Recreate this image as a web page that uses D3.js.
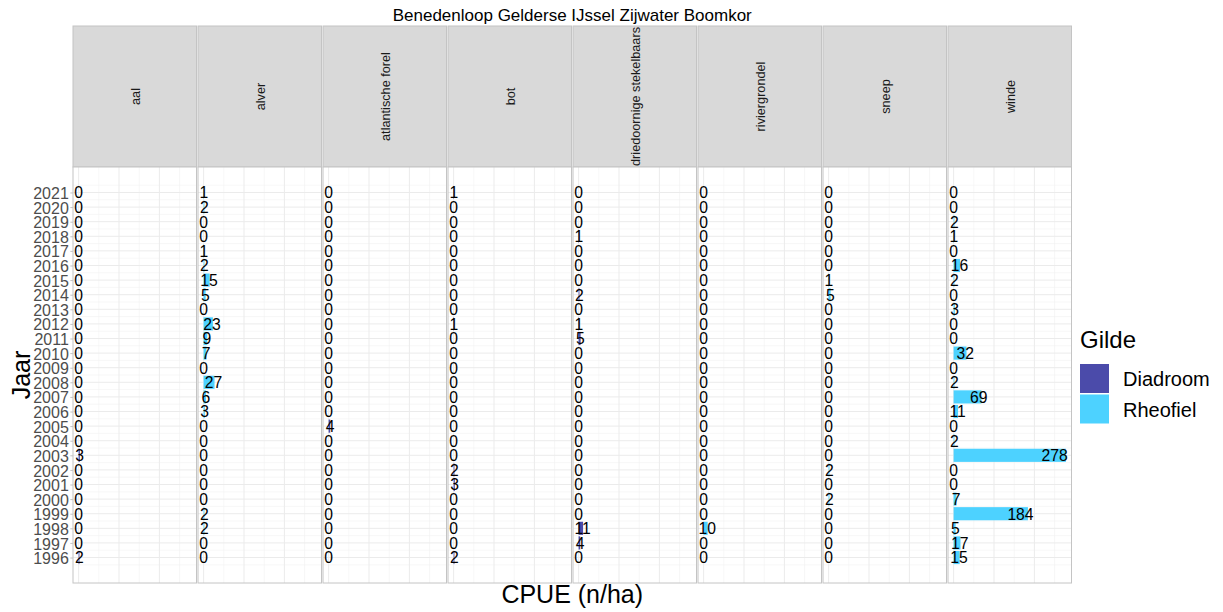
<!DOCTYPE html>
<html><head><meta charset="utf-8">
<script src="https://cdn.jsdelivr.net/npm/d3@7"></script>
<style>body{margin:0;background:#fff;} text{font-family:"Liberation Sans",Arial,sans-serif;}</style>
</head><body>
<svg id="chart" width="1223" height="612"></svg>
<script>
const title = "Benedenloop Gelderse IJssel Zijwater Boomkor";
const years = [2021,2020,2019,2018,2017,2016,2015,2014,2013,2012,2011,2010,2009,2008,2007,2006,2005,2004,2003,2002,2001,2000,1999,1998,1997,1996];
const species = ["aal","alver","atlantische forel","bot","driedoornige stekelbaars","riviergrondel","sneep","winde"];
const gilde = ["Diadroom","Rheofiel","Diadroom","Diadroom","Diadroom","Rheofiel","Rheofiel","Rheofiel"];
const aal      = [0,0,0,0,0,0,0,0,0,0,0,0,0,0,0,0,0,0,3,0,0,0,0,0,0,2];
const alver    = [1,2,0,0,1,2,15,5,0,23,9,7,0,27,6,3,0,0,0,0,0,0,2,2,0,0];
const forel    = [0,0,0,0,0,0,0,0,0,0,0,0,0,0,0,0,4,0,0,0,0,0,0,0,0,0];
const bot      = [1,0,0,0,0,0,0,0,0,1,0,0,0,0,0,0,0,0,0,2,3,0,0,0,0,2];
const stekel   = [0,0,0,1,0,0,0,2,0,1,5,0,0,0,0,0,0,0,0,0,0,0,0,11,4,0];
const grondel  = [0,0,0,0,0,0,0,0,0,0,0,0,0,0,0,0,0,0,0,0,0,0,0,10,0,0];
const sneep    = [0,0,0,0,0,0,1,5,0,0,0,0,0,0,0,0,0,0,0,2,0,2,0,0,0,0];
const winde    = [0,0,2,1,0,16,2,0,3,0,0,32,0,2,69,11,0,2,278,0,0,7,184,5,17,15];
const seriesValues = [aal, alver, forel, bot, stekel, grondel, sneep, winde];
const legendKeys = ["Diadroom","Rheofiel"];
const legendColors = ["#4B4BAA","#4DD2FF"];

const svg = d3.select("#chart");
const color = d3.scaleOrdinal().domain(legendKeys).range(legendColors);

const left0 = 73, pitch = 125, pw = 123.5;
const stripTop = 26, stripBottom = 167, panelBottom = 583;

const maxV = d3.max(seriesValues.flat());
const xr = [0, maxV]; const xpad = (xr[1]-xr[0])*0.05;
const yr = [d3.min(years)-0.45, d3.max(years)+0.45]; const ypad = (yr[1]-yr[0])*0.05;
const y = d3.scaleLinear().domain([yr[0]-ypad, yr[1]+ypad]).range([panelBottom, stripBottom]);
const bandH = Math.abs(y(0.9) - y(0));
const midX = (left0 + left0 + 7*pitch + pw)/2;

// title
svg.append("text").attr("x", midX).attr("y", 21)
  .attr("text-anchor","middle").attr("font-size", 17).attr("fill","#000").text(title);

species.forEach((sp, i) => {
  const px = left0 + i*pitch;
  const x = d3.scaleLinear().domain([xr[0]-xpad, xr[1]+xpad]).range([px, px+pw]);
  const g = svg.append("g");
  // strip
  g.append("rect").attr("x", px).attr("y", stripTop).attr("width", pw).attr("height", stripBottom-stripTop)
    .attr("fill","#D9D9D9").attr("stroke","#C4C4C4").attr("stroke-width",1);
  g.append("text").attr("transform", `translate(${px+pw/2+5},${(stripTop+stripBottom)/2}) rotate(-90)`)
    .attr("text-anchor","middle").attr("font-size", 12.7).attr("fill","#1A1A1A").text(sp);
  // panel bg
  g.append("rect").attr("x", px).attr("y", stripBottom).attr("width", pw).attr("height", panelBottom-stripBottom).attr("fill","#fff");
  // grid
  const xMaj = x.ticks(3), yMaj = years;
  const xMin = xMaj.map(v => v - 50).concat([xMaj[xMaj.length-1] + 50]);
  const yMin = years.map(v=>v+0.5).concat([d3.min(years)-0.5]);
  xMin.filter(v=>x(v)>px && x(v)<px+pw).forEach(v=>{
    g.append("line").attr("x1",x(v)).attr("x2",x(v)).attr("y1",stripBottom).attr("y2",panelBottom).attr("stroke","#F2F2F2").attr("stroke-width",0.6);
  });
  yMin.filter(v=>y(v)>stripBottom && y(v)<panelBottom).forEach(v=>{
    g.append("line").attr("x1",px).attr("x2",px+pw).attr("y1",y(v)).attr("y2",y(v)).attr("stroke","#F2F2F2").attr("stroke-width",0.6);
  });
  xMaj.forEach(v=>{
    g.append("line").attr("x1",x(v)).attr("x2",x(v)).attr("y1",stripBottom).attr("y2",panelBottom).attr("stroke","#EBEBEB").attr("stroke-width",1);
  });
  yMaj.forEach(v=>{
    g.append("line").attr("x1",px).attr("x2",px+pw).attr("y1",y(v)).attr("y2",y(v)).attr("stroke","#EBEBEB").attr("stroke-width",1);
  });
  const vals = seriesValues[i];
  const data = years.map((yr_, j) => ({year: yr_, v: vals[j]}));
  g.selectAll("rect.bar").data(data).enter().append("rect").attr("class","bar")
    .attr("x", d => x(0)).attr("width", d => Math.max(0, x(d.v)-x(0)))
    .attr("y", d => y(d.year+0.45)).attr("height", bandH)
    .attr("fill", color(gilde[i]));
  g.selectAll("text.lab").data(data).enter().append("text").attr("class","lab")
    .attr("x", d => x(d.v*0.9)).attr("y", d => y(d.year)).attr("dy","0.38em")
    .attr("text-anchor","middle").attr("font-size", 15.7).attr("fill","#000").text(d => d.v);
  // border
  g.append("rect").attr("x", px).attr("y", stripBottom).attr("width", pw).attr("height", panelBottom-stripBottom)
    .attr("fill","none").attr("stroke","#C4C4C4").attr("stroke-width",1);
});

// y axis
const yAxis = d3.axisLeft(y).tickValues(years).tickFormat(d3.format("d")).tickSize(2.7).tickPadding(1.5);
const ya = svg.append("g").attr("transform", `translate(${left0},0)`).call(yAxis);
ya.select(".domain").remove();
ya.selectAll(".tick line").attr("stroke","#C4C4C4");
ya.selectAll(".tick text").attr("font-size",16).attr("fill","#4D4D4D").attr("dy","0.38em").attr("font-family","Liberation Sans, Arial, sans-serif");

// axis titles
svg.append("text").attr("transform", `translate(30,${(stripBottom+panelBottom)/2}) rotate(-90)`)
  .attr("text-anchor","middle").attr("font-size",25).attr("fill","#000").text("Jaar");
svg.append("text").attr("x", midX).attr("y", 603)
  .attr("text-anchor","middle").attr("font-size",25).attr("fill","#000").text("CPUE (n/ha)");

// legend
const lg = svg.append("g");
lg.append("text").attr("x",1080).attr("y",348).attr("font-size",24).attr("fill","#000").text("Gilde");
legendKeys.forEach((k, i) => {
  lg.append("rect").attr("x",1080).attr("y",364 + i*30.5).attr("width",29).attr("height",29).attr("fill",color(k));
  lg.append("text").attr("x",1123).attr("y",379 + i*30.5).attr("dy","0.35em").attr("font-size",20).attr("fill","#000").text(k);
});
</script>
</body></html>
